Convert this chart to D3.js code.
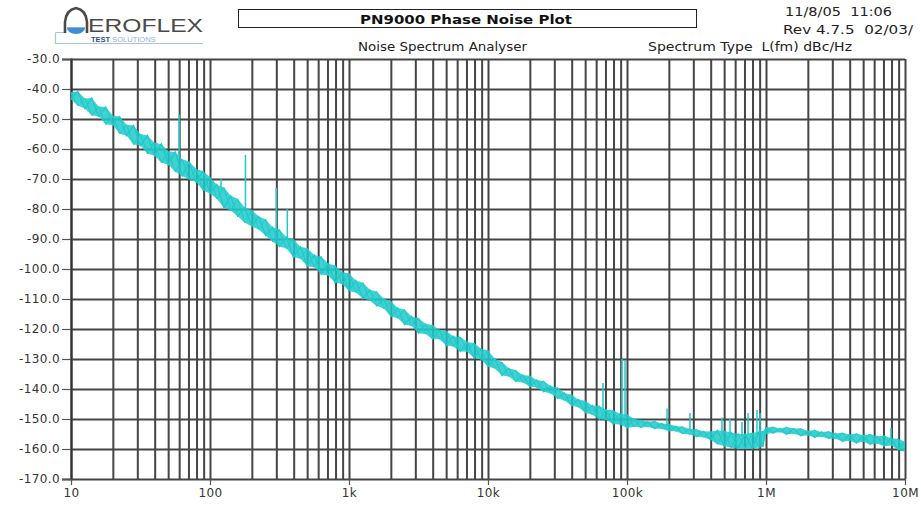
<!DOCTYPE html>
<html><head><meta charset="utf-8">
<script src="https://cdn.jsdelivr.net/npm/d3@7/dist/d3.min.js"></script>
<style>html,body{margin:0;padding:0;background:#fff;}svg{display:block;}</style>
</head><body><div id="chart"></div>
<script>
// ---- data ----
const title = "PN9000 Phase Noise Plot";
const subtitle = "Noise Spectrum Analyser";
const spectrumType = "Spectrum Type  L(fm) dBc/Hz";
const stamp1 = "11/8/05  11:06";
const stamp2 = "Rev 4.7.5  02/03/";

const xTickValues = [10, 100, 1000, 1e4, 1e5, 1e6, 1e7];
const xTickLabels = ["10", "100", "1k", "10k", "100k", "1M", "10M"];
const yTickValues = [-30, -40, -50, -60, -70, -80, -90, -100, -110, -120, -130, -140, -150, -160, -170];
const yTickLabels = ["-30.0", "-40.0", "-50.0", "-60.0", "-70.0", "-80.0", "-90.0", "-100.0", "-110.0", "-120.0", "-130.0", "-140.0", "-150.0", "-160.0", "-170.0"];

// offset frequency (Hz)
const freqHz = [
  10,11.2,12.6,14.1,15.8,17.8,20,22.4,25.1,28.2,31.6,35.5,39.8,44.7,50.1,56.2,63.1,70.8,79.4,89.1,
  100,112,126,141,158,178,200,224,251,282,316,355,398,447,501,562,631,708,794,891,
  1000,1120,1260,1410,1580,1780,2000,2240,2510,2820,3160,3550,3980,4470,5010,5620,6310,7080,7940,8910,
  1e4,11200,12600,14100,15800,17800,20000,22400,25100,28200,31600,35500,39800,44700,50100,56200,63100,70800,79400,89100,
  1e5,112e3,126e3,141e3,158e3,178e3,200e3,224e3,251e3,282e3,316e3,355e3,398e3,447e3,501e3,562e3,631e3,708e3,794e3,891e3,950e3,
  1e6,1.12e6,1.26e6,1.41e6,1.58e6,1.78e6,2e6,2.24e6,2.51e6,2.82e6,3.16e6,3.55e6,3.98e6,4.47e6,5.01e6,5.62e6,6.31e6,7.08e6,7.94e6,8.91e6,1e7
];
// upper edge of the noise trace (dBc/Hz)
const traceHigh = [
  -41.0,-40.8,-43.2,-43.0,-45.8,-46.0,-48.9,-49.2,-51.9,-52.2,-55.0,-55.5,-57.9,-58.3,-60.8,-61.0,-63.4,-64.2,-66.6,-67.4,
  -69.3,-71.9,-72.8,-75.6,-76.6,-79.5,-80.3,-82.5,-83.4,-86.1,-86.8,-89.4,-90.0,-92.6,-93.1,-95.3,-95.8,-98.2,-98.8,-101.0,
  -101.5,-103.8,-104.6,-106.9,-107.5,-109.9,-110.7,-113.0,-113.5,-115.8,-116.3,-118.3,-118.6,-120.4,-120.7,-122.4,-122.6,-124.3,-124.7,-126.6,
  -127.2,-129.9,-131.0,-133.1,-133.7,-135.3,-135.6,-137.0,-137.3,-139.0,-139.5,-141.3,-141.9,-143.5,-143.9,-145.5,-145.6,-146.9,-147.0,-148.3,
  -148.5,-149.9,-150.3,-150.9,-150.7,-151.5,-151.6,-152.4,-152.5,-153.3,-153.4,-154.1,-154.2,-153.8,-154.0,-154.5,-154.9,-155.0,-154.6,-154.3,-154.0,
  -152.8,-152.6,-153.2,-152.7,-153.2,-153.1,-154.0,-153.7,-154.3,-154.1,-154.8,-154.6,-155.2,-154.8,-155.4,-155.0,-155.8,-155.5,-156.4,-156.6,-157.6
];
// lower edge of the noise trace (dBc/Hz)
const traceLow = [
  -43.5,-45.6,-46.5,-48.8,-49.1,-51.8,-52.0,-55.0,-55.5,-58.5,-58.8,-61.6,-62.2,-64.6,-65.2,-67.6,-69.0,-70.2,-71.0,-73.8,
  -74.8,-76.6,-79.6,-80.5,-82.4,-84.6,-85.8,-86.8,-88.8,-90.9,-92.5,-93.2,-96.0,-96.6,-99.1,-99.4,-101.8,-102.2,-104.6,-105.0,
  -107.3,-107.8,-109.8,-110.5,-112.3,-113.2,-115.8,-116.4,-118.5,-119.0,-121.4,-121.7,-123.3,-123.4,-125.5,-125.8,-127.5,-127.6,-129.7,-130.2,
  -132.6,-133.2,-135.5,-135.8,-137.5,-137.8,-139.2,-139.5,-140.9,-141.5,-143.1,-143.8,-145.5,-146.1,-147.9,-148.6,-150.1,-150.3,-151.7,-151.8,
  -153.0,-152.6,-152.8,-152.7,-153.2,-153.3,-154.0,-154.1,-154.9,-155.2,-155.9,-156.1,-156.9,-158.4,-159.0,-159.6,-159.8,-160.0,-159.8,-159.5,-159.3,
  -155.0,-154.7,-154.4,-155.1,-154.9,-155.6,-155.5,-156.1,-155.9,-156.5,-156.6,-157.5,-157.3,-158.0,-157.6,-158.5,-158.2,-159.1,-158.8,-160.2,-161.0
];
// discrete spurs
const spurFreq = [60, 120, 180, 300, 360, 67200, 92000, 96800, 194000, 284000, 482000, 551000, 672000, 743000, 861000, 906000, 7930000];
const spurTop  = [-48.5, -70, -62, -73, -80, -138, -130, -130.5, -146.5, -148, -149.5, -150, -151, -148, -147, -148, -153];

// ---- drawing ----
const W = 921, H = 506;
const m = {left: 71, top: 59, right: 905, bottom: 479};
const svg = d3.select("#chart").append("svg").attr("width", W).attr("height", H);
svg.append("rect").attr("width", W).attr("height", H).attr("fill", "#fff");

const x = d3.scaleLog().domain([10, 1e7]).range([m.left, m.right]);
const y = d3.scaleLinear().domain([-170, -30]).range([m.bottom, m.top]);

const gridColor = "#454545";
const font = "'DejaVu Sans', 'Liberation Sans', Arial, sans-serif";

// vertical grid
const gx = svg.append("g").attr("transform", `translate(0,${m.bottom})`)
  .call(d3.axisBottom(x).tickValues(x.ticks()).tickSize(-(m.bottom - m.top)).tickFormat(""));
gx.select(".domain").remove();
gx.selectAll("line").attr("stroke", gridColor).attr("stroke-width", 2);

// horizontal grid
const gy = svg.append("g").attr("transform", `translate(${m.left},0)`)
  .call(d3.axisLeft(y).tickValues(yTickValues).tickSize(-(m.right - m.left)).tickFormat(""));
gy.select(".domain").remove();
gy.selectAll("line").attr("stroke", gridColor).attr("stroke-width", 2);

// y axis labels
const ya = svg.append("g").attr("transform", `translate(${m.left},0)`)
  .call(d3.axisLeft(y).tickValues(yTickValues).tickSize(9).tickPadding(2)
    .tickFormat((d, i) => yTickLabels[i]));
ya.select(".domain").attr("stroke", "#333").attr("stroke-width", 2);
ya.selectAll("line").attr("stroke", "#555").attr("stroke-width", 1.2);
ya.selectAll("text").attr("font-family", font).attr("font-size", 12).attr("fill", "#333")
  .attr("letter-spacing", 0.4);

// x axis labels
const xa = svg.append("g").attr("transform", `translate(0,${m.bottom})`)
  .call(d3.axisBottom(x).tickValues(xTickValues).tickSize(6).tickPadding(3)
    .tickFormat((d, i) => xTickLabels[i]));
xa.select(".domain").remove();
xa.selectAll("line").attr("stroke", "#555").attr("stroke-width", 1.2);
xa.selectAll("text").attr("font-family", font).attr("font-size", 12).attr("fill", "#333")
  .attr("letter-spacing", 0.4);

// trace
const traceColor = "#1fcaca";
const pts = freqHz.map((f, i) => ({f, hi: traceHigh[i], lo: traceLow[i]}));
svg.append("path").datum(pts)
  .attr("d", d3.area().x(d => x(d.f)).y0(d => y(d.lo)).y1(d => y(d.hi)))
  .attr("fill", traceColor).attr("fill-opacity", 0.85).attr("stroke", "none");
// jagged noise line running between the band edges
svg.append("path").datum(pts)
  .attr("d", d3.line().x(d => x(d.f)).y((d, i) => y(i % 2 ? d.hi : d.lo)))
  .attr("fill", "none").attr("stroke", traceColor).attr("stroke-width", 1.3);
svg.append("path").datum(pts)
  .attr("d", d3.line().x(d => x(d.f)).y((d, i) => y(i % 2 ? d.lo : d.hi)))
  .attr("fill", "none").attr("stroke", traceColor).attr("stroke-width", 1);

// spurs
const bandHi = d3.scaleLog().domain(freqHz).range(traceHigh);
svg.append("g").selectAll("line").data(spurFreq).join("line")
  .attr("x1", d => x(d)).attr("x2", d => x(d))
  .attr("y1", d => y(bandHi(d)) + 2)
  .attr("y2", (d, i) => y(spurTop[i]))
  .attr("stroke", traceColor).attr("stroke-width", 1.5);

// ---- header ----
svg.append("rect").attr("x", 238.5).attr("y", 9.5).attr("width", 458).attr("height", 18)
  .attr("fill", "#fff").attr("stroke", "#222").attr("stroke-width", 1);
svg.append("text").attr("x", 466).attr("y", 24).attr("text-anchor", "middle")
  .attr("font-family", font).attr("font-weight", "bold").attr("font-size", 13)
  .attr("fill", "#111").attr("textLength", 212).attr("lengthAdjust", "spacingAndGlyphs").text(title);
svg.append("text").attr("x", 358).attr("y", 51)
  .attr("font-family", font).attr("font-size", 12).attr("fill", "#222")
  .attr("textLength", 169).attr("lengthAdjust", "spacingAndGlyphs").text(subtitle);
svg.append("text").attr("x", 648).attr("y", 51)
  .attr("font-family", font).attr("font-size", 12).attr("fill", "#222").attr("xml:space", "preserve")
  .attr("textLength", 204).attr("lengthAdjust", "spacingAndGlyphs").text(spectrumType);
svg.append("text").attr("x", 785).attr("y", 16)
  .attr("font-family", font).attr("font-size", 12).attr("fill", "#222").attr("xml:space", "preserve")
  .attr("textLength", 107).attr("lengthAdjust", "spacingAndGlyphs").text(stamp1);
svg.append("text").attr("x", 783).attr("y", 34)
  .attr("font-family", font).attr("font-size", 12).attr("fill", "#222").attr("xml:space", "preserve")
  .attr("textLength", 130).attr("lengthAdjust", "spacingAndGlyphs").text(stamp2);

// ---- logo ----
const logo = svg.append("g");
logo.append("path").attr("d", "M55.5,32.5 L66,32.5 M55.5,32.5 L55.5,43.5 L203,43.5")
  .attr("fill", "none").attr("stroke", "#a9c6dc").attr("stroke-width", 1.2);
logo.append("path").attr("d", "M67,28 A9,6 0 0 0 85,28 Z").attr("fill", "#3d8fd1");
logo.append("path").attr("d", "M67,27.5 L85,27.5").attr("stroke", "#7fb6e0").attr("stroke-width", 1);
logo.append("path").attr("d", "M65,33 L65,22 Q66,10 76,8 Q86,10 87,22 L87,33")
  .attr("fill", "none").attr("stroke", "#4a4a4a").attr("stroke-width", 2.6);
logo.append("text").attr("x", 88).attr("y", 32)
  .attr("font-family", "'Liberation Sans', Arial, sans-serif").attr("font-size", 19).attr("fill", "#4a4a4a")
  .attr("textLength", 115).attr("lengthAdjust", "spacingAndGlyphs").text("EROFLEX");
const ts = logo.append("text").attr("x", 91).attr("y", 42)
  .attr("font-family", "'Liberation Sans', Arial, sans-serif").attr("font-size", 7.5);
ts.append("tspan").attr("font-weight", "bold").attr("fill", "#2c4f8f").text("TEST ");
ts.append("tspan").attr("fill", "#8fb3d9").text("SOLUTIONS");
</script></body></html>
